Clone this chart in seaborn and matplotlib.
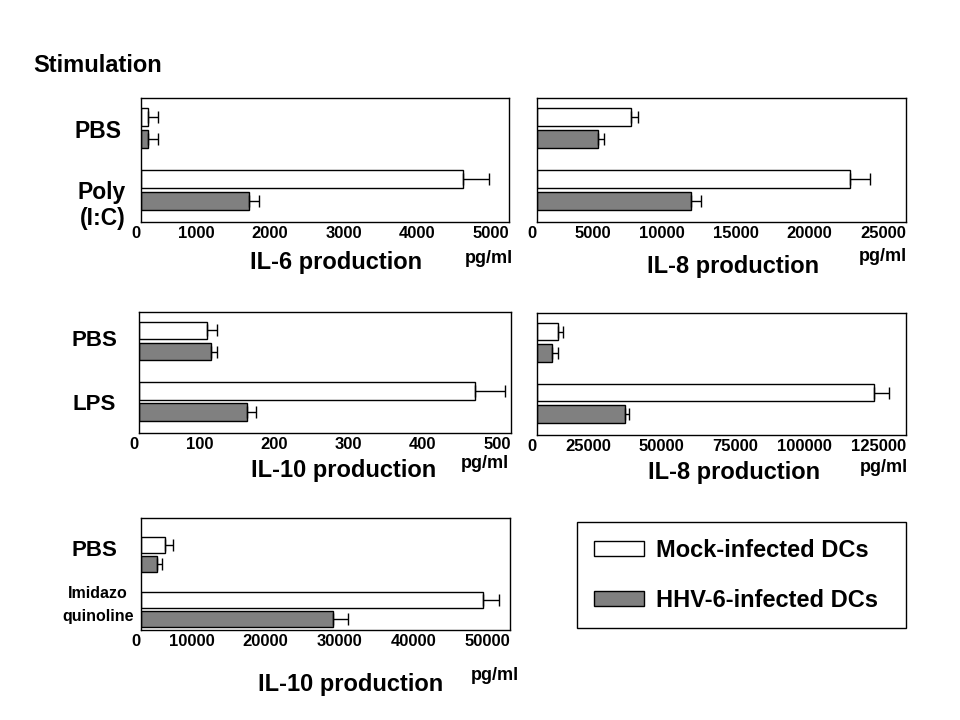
import pandas as pd
import numpy as np

import matplotlib
matplotlib.use("Agg")
import matplotlib.pyplot as plt
from matplotlib.patches import Patch
import seaborn as sns

sns.set_theme(style="white")
plt.rcParams['font.family'] = ['Liberation Sans', 'DejaVu Sans']
plt.rcParams['font.weight'] = 'bold'
plt.rcParams['text.color'] = 'black'
plt.rcParams['xtick.color'] = 'black'
plt.rcParams['ytick.color'] = 'black'

# data (pg/ml)
groups = ["Mock", "HHV"]

il6_stim = ["PBS", "Poly (I:C)"]
il6_mock = [90, 4380]
il6_mock_err = [140, 350]
il6_hhv = [90, 1470]
il6_hhv_err = [140, 135]

il8a_stim = ["PBS", "Poly (I:C)"]
il8a_mock = [6340, 21180]
il8a_mock_err = [520, 1360]
il8a_hhv = [4140, 10420]
il8a_hhv_err = [390, 700]

il10a_stim = ["PBS", "LPS"]
il10a_mock = [91, 452]
il10a_mock_err = [14, 40]
il10a_hhv = [97, 145]
il10a_hhv_err = [8, 12]

il8b_stim = ["PBS", "LPS"]
il8b_mock = [7130, 114250]
il8b_mock_err = [1700, 5100]
il8b_hhv = [5090, 29660]
il8b_hhv_err = [2040, 1460]

il10b_stim = ["PBS", "Imidazoquinoline"]
il10b_mock = [3300, 46380]
il10b_mock_err = [1040, 2130]
il10b_hhv = [2170, 26040]
il10b_hhv_err = [680, 2030]

il6_ticks = [0, 1000, 2000, 3000, 4000, 5000]
il8a_ticks = [0, 5000, 10000, 15000, 20000, 25000]
il10a_ticks = [0, 100, 200, 300, 400, 500]
il8b_ticks = [0, 25000, 50000, 75000, 100000, 125000]
il10b_ticks = [0, 10000, 20000, 30000, 40000, 50000]

palette = {"Mock": "white", "HHV": "#808080"}

W, H = 960, 720


def fx(px):
    return px / W


def fy(py):
    return 1 - py / H


def draw_panel(ax, stim, mock, mock_err, hhv, hhv_err, ticks, ylim):
    '''horizontal grouped bars with one-sided error bars'''
    df = pd.DataFrame({
        'stim': stim * 2,
        'group': ['Mock'] * len(stim) + ['HHV'] * len(stim),
        'value': mock + hhv,
    })
    sns.barplot(data=df, y='stim', x='value', hue='group', order=stim,
                hue_order=groups, palette=palette, orient='h',
                edgecolor='black', linewidth=1, width=0.7, gap=0.17,
                legend=False, ax=ax)
    errs = mock_err + hhv_err
    for patch, err in zip(ax.patches, errs):
        y = patch.get_y() + patch.get_height() / 2
        ax.errorbar(patch.get_width(), y, xerr=[[0], [err]], fmt='none',
                    ecolor='black', elinewidth=1, capsize=4, capthick=1,
                    zorder=5)
    ax.set_xlim(ticks[0], ticks[-1])
    ax.set_ylim(*ylim)
    ax.set_xticks(ticks)
    ax.set_xticklabels([str(t) for t in ticks], fontsize=12,
                       fontweight='bold', ha='right')
    ax.set_yticks([])
    ax.set_xlabel('')
    ax.set_ylabel('')
    ax.tick_params(axis='x', length=0, pad=3)
    for s in ax.spines.values():
        s.set_color('black')
        s.set_linewidth(1)


fig = plt.figure(figsize=(9.6, 7.2), dpi=100)

ax1 = fig.add_axes([fx(141), fy(222), fx(368), 124 / H])
ax2 = fig.add_axes([fx(537), fy(222), fx(369), 124 / H])
ax3 = fig.add_axes([fx(139), fy(433), fx(372), 121 / H])
ax4 = fig.add_axes([fx(537), fy(435), fx(369), 122 / H])
ax5 = fig.add_axes([fx(141), fy(630), fx(369), 112 / H])

top_ylim = (1.52, -0.48)
draw_panel(ax1, il6_stim, il6_mock, il6_mock_err, il6_hhv, il6_hhv_err,
           il6_ticks, top_ylim)
draw_panel(ax2, il8a_stim, il8a_mock, il8a_mock_err, il8a_hhv, il8a_hhv_err,
           il8a_ticks, top_ylim)
draw_panel(ax3, il10a_stim, il10a_mock, il10a_mock_err, il10a_hhv,
           il10a_hhv_err, il10a_ticks, top_ylim)
draw_panel(ax4, il8b_stim, il8b_mock, il8b_mock_err, il8b_hhv, il8b_hhv_err,
           il8b_ticks, top_ylim)
draw_panel(ax5, il10b_stim, il10b_mock, il10b_mock_err, il10b_hhv,
           il10b_hhv_err, il10b_ticks, (1.38, -0.66))

# axis titles and units
titles = [("IL-6 production", 336, 263, 489, 258),
          ("IL-8 production", 733, 266, 883, 256),
          ("IL-10 production", 344, 471, 485, 464),
          ("IL-8 production", 734, 473, 884, 467),
          ("IL-10 production", 351, 684, 495, 675)]
for txt, tx, ty, ux, uy in titles:
    fig.text(fx(tx), fy(ty), txt, fontsize=17, fontweight='bold',
             ha='center', va='center')
    fig.text(fx(ux), fy(uy), "pg/ml", fontsize=13, fontweight='bold',
             ha='center', va='center')

# stimulation labels
fig.text(fx(33), fy(65), "Stimulation", fontsize=17, fontweight='bold',
         ha='left', va='center')
row_labels = [("PBS", 98, 131, 16.5), ("Poly", 102, 192, 16.5),
              ("(I:C)", 103, 219, 16.5), ("PBS", 94, 340, 16),
              ("LPS", 94, 405, 16), ("PBS", 94, 550, 16),
              ("Imidazo", 98, 593, 11.5), ("quinoline", 98, 616, 11.5)]
for txt, x, y, fs in row_labels:
    fig.text(fx(x), fy(y), txt, fontsize=fs, fontweight='bold',
             ha='center', va='center')

# legend
handles = [Patch(facecolor='white', edgecolor='black', linewidth=1),
           Patch(facecolor='#808080', edgecolor='black', linewidth=1)]
leg = fig.legend(handles, ["Mock-infected DCs", "HHV-6-infected DCs"],
                 loc='upper left',
                 bbox_to_anchor=(fx(577), fy(627), fx(329), 105 / H),
                 mode='expand', borderaxespad=0, fancybox=False,
                 frameon=True, edgecolor='black', framealpha=1,
                 prop={'size': 17, 'weight': 'bold'},
                 handlelength=2.15, handleheight=0.6, handletextpad=0.5,
                 labelspacing=1.15, borderpad=0.7)
leg.get_frame().set_linewidth(1)

fig.savefig("out.png", dpi=100, facecolor='white')
